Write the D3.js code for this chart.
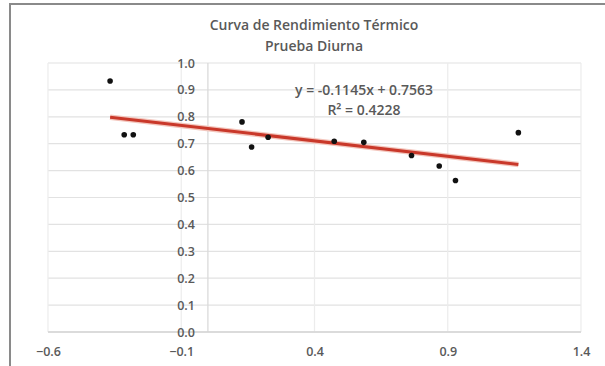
<!DOCTYPE html>
<html>
<head>
<meta charset="utf-8">
<script src="https://cdn.jsdelivr.net/npm/d3@7"></script>
<style>
  body { margin: 0; background: #fff; }
  text { font-family: "Open Sans", "Liberation Sans", sans-serif; fill: #595959; }
</style>
</head>
<body>
<div id="chart"></div>
<script>
// data
const titleLines = ['Curva de Rendimiento Térmico', 'Prueba Diurna'];
const xValues = [-0.367, -0.314, -0.280, 0.128, 0.164, 0.226, 0.474, 0.585, 0.764, 0.868, 0.929, 1.165];
const yValues = [0.933, 0.733, 0.733, 0.781, 0.688, 0.724, 0.709, 0.705, 0.656, 0.617, 0.563, 0.741];
const xTicks = [-0.6, -0.1, 0.4, 0.9, 1.4];
const yTicks = [0, 0.1, 0.2, 0.3, 0.4, 0.5, 0.6, 0.7, 0.8, 0.9, 1.0];
const trendSlope = -0.1145;
const trendIntercept = 0.7563;
const trendLabels = ['y = -0.1145x + 0.7563', 'R² = 0.4228'];

const width = 605, height = 366;
const points = xValues.map((x, i) => ({x: x, y: yValues[i]}));

const svg = d3.select('#chart').append('svg')
    .attr('width', width)
    .attr('height', height);

// outer chart border (cut off at right / bottom like the picture)
svg.append('rect')
    .attr('x', 10).attr('y', 4)
    .attr('width', 620).attr('height', 380)
    .attr('fill', '#fff')
    .attr('stroke', '#8a8a8a')
    .attr('stroke-width', 2);

const xScale = d3.scaleLinear().domain([-0.6, 1.4]).range([48, 581]);
const yScale = d3.scaleLinear().domain([0, 1]).range([332, 63]);

// horizontal gridlines
svg.append('g')
    .selectAll('line')
    .data(yTicks)
    .join('line')
    .attr('x1', xScale(-0.6)).attr('x2', xScale(1.4))
    .attr('y1', d => yScale(d)).attr('y2', d => yScale(d))
    .attr('stroke', '#e2e2e2')
    .attr('stroke-width', 1.2);

// vertical gridlines
svg.append('g')
    .selectAll('line')
    .data(xTicks)
    .join('line')
    .attr('x1', d => xScale(d)).attr('x2', d => xScale(d))
    .attr('y1', yScale(1)).attr('y2', yScale(0))
    .attr('stroke', '#ececec')
    .attr('stroke-width', 1.2);

// value axis at x = 0 and category axis at y = 0
svg.append('line')
    .attr('x1', xScale(0)).attr('x2', xScale(0))
    .attr('y1', yScale(1)).attr('y2', yScale(0))
    .attr('stroke', '#dadada').attr('stroke-width', 1.3);
svg.append('line')
    .attr('x1', xScale(-0.6)).attr('x2', xScale(1.4))
    .attr('y1', yScale(0)).attr('y2', yScale(0))
    .attr('stroke', '#d4d4d4').attr('stroke-width', 1.3);

// x axis labels
const xAxis = d3.axisBottom(xScale)
    .tickValues(xTicks)
    .tickFormat(d3.format('.1f'))
    .tickSize(0)
    .tickPadding(15);
svg.append('g')
    .attr('transform', `translate(0,${yScale(0)})`)
    .call(xAxis)
    .call(g => g.select('.domain').remove())
    .selectAll('text')
    .style('font-size', '12.5px')
    .style('font-weight', 600)
    .style('font-family', '"Open Sans", sans-serif')
    .attr('fill', '#5f5f5f');

// y axis labels next to x = 0
const yAxis = d3.axisLeft(yScale)
    .tickValues(yTicks)
    .tickFormat(d3.format('.1f'))
    .tickSize(0)
    .tickPadding(13);
svg.append('g')
    .attr('transform', `translate(${xScale(0)},0)`)
    .call(yAxis)
    .call(g => g.select('.domain').remove())
    .selectAll('text')
    .style('font-size', '12.5px')
    .style('font-weight', 600)
    .style('font-family', '"Open Sans", sans-serif')
    .attr('fill', '#5f5f5f');

// linear trendline over the range of the data
const xExt = d3.extent(xValues);
const trend = xExt.map(x => ({x: x, y: trendSlope * x + trendIntercept}));
const line = d3.line().x(d => xScale(d.x)).y(d => yScale(d.y));
svg.append('path')
    .datum(trend)
    .attr('d', line)
    .attr('fill', 'none')
    .attr('stroke', '#f3c6bd')
    .attr('stroke-width', 5.5);
svg.append('path')
    .datum(trend)
    .attr('d', line)
    .attr('fill', 'none')
    .attr('stroke', '#c9382a')
    .attr('stroke-width', 3);

// points
svg.append('g')
    .selectAll('circle')
    .data(points)
    .join('circle')
    .attr('cx', d => xScale(d.x))
    .attr('cy', d => yScale(d.y))
    .attr('r', 2.8)
    .attr('fill', '#111');

// title
svg.append('g')
    .selectAll('text')
    .data(titleLines)
    .join('text')
    .attr('x', 314)
    .attr('y', (d, i) => 30 + i * 21)
    .attr('text-anchor', 'middle')
    .style('font-size', '14px')
    .style('font-weight', 600)
    .text(d => d);

// trendline label
svg.append('g')
    .selectAll('text')
    .data(trendLabels)
    .join('text')
    .attr('x', 364)
    .attr('y', (d, i) => 95 + i * 20)
    .attr('text-anchor', 'middle')
    .style('font-size', '14px')
    .style('font-weight', 600)
    .text(d => d);
</script>
</body>
</html>
